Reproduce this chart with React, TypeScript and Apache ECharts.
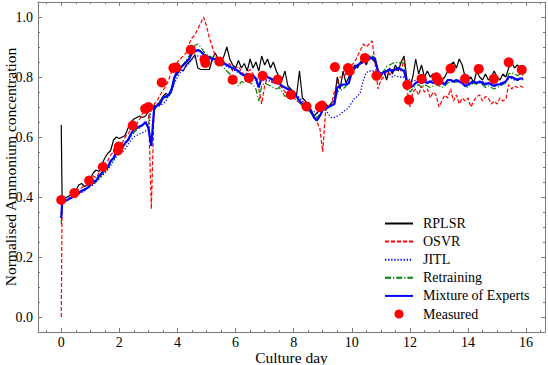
import React, { useEffect, useRef } from "react";
import * as echarts from "echarts";

// sampling grid (days): two samples at the very start, then every 0.1 day
const startDays = [0, 0.03];
const days: number[] = [...startDays, ...Array.from({ length: 159 }, (_, i) => Math.round((i + 1)) / 10)];

const rplsr = [
  0.64, 0.39, 0.395, 0.40, 0.405, 0.41, 0.42, 0.44, 0.445, 0.435, 0.44,
  0.46, 0.48, 0.49, 0.485, 0.51, 0.53, 0.545, 0.555, 0.59, 0.60,
  0.595, 0.60, 0.605, 0.63, 0.65, 0.66, 0.665, 0.67, 0.665, 0.67,
  0.685, 0.70, 0.69, 0.705, 0.72, 0.735, 0.745, 0.74, 0.76, 0.80,
  0.81, 0.825, 0.82, 0.84, 0.85, 0.86, 0.875, 0.83, 0.825, 0.825,
  0.825, 0.825, 0.86, 0.88, 0.86, 0.85, 0.87, 0.90, 0.86, 0.84,
  0.83, 0.855, 0.83, 0.845, 0.82, 0.86, 0.83, 0.85, 0.82, 0.87,
  0.84, 0.86, 0.83, 0.85, 0.82, 0.80, 0.79, 0.82, 0.77, 0.76,
  0.75, 0.74, 0.82, 0.73, 0.72, 0.70, 0.69, 0.67, 0.68, 0.69,
  0.70, 0.71, 0.70, 0.715, 0.72, 0.80, 0.76, 0.82, 0.78, 0.80,
  0.82, 0.84, 0.83, 0.85, 0.86, 0.84, 0.87, 0.86, 0.85, 0.82,
  0.80, 0.82, 0.79, 0.83, 0.81, 0.84, 0.82, 0.85, 0.87, 0.79,
  0.77, 0.80, 0.86, 0.81, 0.84, 0.80, 0.82, 0.80, 0.81, 0.79,
  0.78, 0.79, 0.80, 0.82, 0.84, 0.85, 0.83, 0.86, 0.84, 0.80,
  0.79, 0.80, 0.78, 0.82, 0.80, 0.79, 0.81, 0.79, 0.80, 0.82,
  0.80, 0.79, 0.81, 0.80, 0.83, 0.85, 0.83, 0.84, 0.83, 0.82,
];

const osvr = [
  0.0, 0.38, 0.385, 0.39, 0.40, 0.41, 0.42, 0.425, 0.43, 0.44, 0.44,
  0.46, 0.47, 0.465, 0.48, 0.49, 0.51, 0.52, 0.54, 0.55, 0.57,
  0.57, 0.58, 0.60, 0.61, 0.625, 0.64, 0.645, 0.66, 0.68, 0.69,
  0.70, 0.36, 0.71, 0.72, 0.74, 0.755, 0.77, 0.79, 0.82, 0.83,
  0.85, 0.86, 0.87, 0.88, 0.91, 0.93, 0.94, 0.96, 0.98, 1.0,
  0.97, 0.93, 0.90, 0.87, 0.855, 0.845, 0.85, 0.84, 0.845, 0.82,
  0.83, 0.835, 0.82, 0.80, 0.815, 0.825, 0.81, 0.79, 0.76, 0.71,
  0.77, 0.80, 0.79, 0.78, 0.785, 0.77, 0.765, 0.75, 0.74, 0.735,
  0.73, 0.72, 0.715, 0.71, 0.70, 0.69, 0.68, 0.665, 0.65, 0.63,
  0.55, 0.69, 0.70, 0.71, 0.75, 0.78, 0.80, 0.80, 0.81, 0.82,
  0.84, 0.85, 0.87, 0.89, 0.91, 0.90, 0.91, 0.92, 0.85, 0.76,
  0.79, 0.80, 0.82, 0.81, 0.825, 0.82, 0.83, 0.82, 0.86, 0.76,
  0.70, 0.75, 0.76, 0.74, 0.77, 0.75, 0.76, 0.73, 0.75, 0.74,
  0.70, 0.72, 0.74, 0.73, 0.76, 0.72, 0.74, 0.71, 0.73, 0.72,
  0.73, 0.70, 0.72, 0.735, 0.74, 0.72, 0.735, 0.73, 0.71, 0.72,
  0.71, 0.73, 0.72, 0.725, 0.775, 0.76, 0.77, 0.765, 0.77, 0.765,
];

const jitl = [
  0.33, 0.38, 0.385, 0.39, 0.395, 0.40, 0.405, 0.41, 0.415, 0.42, 0.43,
  0.435, 0.44, 0.45, 0.46, 0.47, 0.48, 0.49, 0.505, 0.52, 0.535,
  0.545, 0.55, 0.56, 0.575, 0.59, 0.60, 0.605, 0.61, 0.615, 0.62,
  0.625, 0.70, 0.70, 0.70, 0.705, 0.71, 0.72, 0.74, 0.75, 0.78,
  0.80, 0.815, 0.825, 0.835, 0.845, 0.86, 0.865, 0.87, 0.87, 0.865,
  0.86, 0.86, 0.855, 0.855, 0.85, 0.845, 0.84, 0.835, 0.83, 0.825,
  0.82, 0.815, 0.81, 0.81, 0.805, 0.80, 0.80, 0.795, 0.79, 0.79,
  0.79, 0.79, 0.785, 0.78, 0.78, 0.775, 0.77, 0.765, 0.76, 0.755,
  0.75, 0.74, 0.73, 0.72, 0.71, 0.70, 0.69, 0.685, 0.68, 0.685,
  0.69, 0.69, 0.675, 0.665, 0.665, 0.67, 0.675, 0.685, 0.69, 0.70,
  0.715, 0.73, 0.735, 0.75, 0.79, 0.815, 0.82, 0.82, 0.82, 0.815,
  0.81, 0.81, 0.805, 0.81, 0.80, 0.805, 0.80, 0.80, 0.80, 0.795,
  0.79, 0.785, 0.79, 0.79, 0.785, 0.79, 0.79, 0.785, 0.79, 0.79,
  0.785, 0.785, 0.78, 0.79, 0.79, 0.785, 0.785, 0.78, 0.785, 0.78,
  0.78, 0.785, 0.785, 0.78, 0.78, 0.785, 0.78, 0.78, 0.78, 0.775,
  0.775, 0.78, 0.78, 0.785, 0.795, 0.795, 0.79, 0.795, 0.795, 0.79,
];

const retraining = [
  0.31, 0.38, 0.385, 0.39, 0.395, 0.40, 0.405, 0.41, 0.42, 0.425, 0.43,
  0.44, 0.445, 0.45, 0.46, 0.475, 0.48, 0.495, 0.51, 0.52, 0.545,
  0.55, 0.56, 0.575, 0.59, 0.60, 0.615, 0.625, 0.63, 0.64, 0.645,
  0.65, 0.70, 0.705, 0.71, 0.72, 0.73, 0.73, 0.735, 0.75, 0.79,
  0.82, 0.83, 0.84, 0.855, 0.87, 0.89, 0.905, 0.91, 0.90, 0.885,
  0.875, 0.87, 0.865, 0.86, 0.85, 0.84, 0.83, 0.82, 0.81, 0.80,
  0.79, 0.77, 0.785, 0.78, 0.79, 0.78, 0.775, 0.76, 0.72, 0.77,
  0.78, 0.775, 0.77, 0.765, 0.76, 0.765, 0.75, 0.735, 0.74, 0.735,
  0.74, 0.725, 0.715, 0.705, 0.70, 0.69, 0.68, 0.67, 0.665, 0.675,
  0.695, 0.70, 0.70, 0.705, 0.71, 0.75, 0.755, 0.76, 0.77, 0.78,
  0.81, 0.825, 0.84, 0.85, 0.855, 0.86, 0.865, 0.87, 0.865, 0.82,
  0.81, 0.82, 0.835, 0.84, 0.845, 0.85, 0.845, 0.85, 0.845, 0.77,
  0.75, 0.76, 0.77, 0.775, 0.765, 0.775, 0.77, 0.765, 0.77, 0.775,
  0.77, 0.765, 0.77, 0.78, 0.785, 0.78, 0.785, 0.79, 0.78, 0.77,
  0.765, 0.775, 0.78, 0.775, 0.78, 0.775, 0.765, 0.77, 0.765, 0.76,
  0.765, 0.77, 0.775, 0.78, 0.81, 0.815, 0.81, 0.805, 0.81, 0.805,
];

const mixture = [
  0.33, 0.38, 0.385, 0.39, 0.395, 0.40, 0.41, 0.415, 0.42, 0.425, 0.43,
  0.44, 0.45, 0.455, 0.47, 0.48, 0.49, 0.50, 0.52, 0.53, 0.55,
  0.555, 0.565, 0.58, 0.59, 0.61, 0.625, 0.63, 0.635, 0.64, 0.65,
  0.63, 0.57, 0.70, 0.705, 0.71, 0.73, 0.735, 0.74, 0.76, 0.80,
  0.82, 0.83, 0.84, 0.85, 0.86, 0.88, 0.885, 0.89, 0.885, 0.875,
  0.87, 0.865, 0.86, 0.86, 0.855, 0.85, 0.845, 0.84, 0.835, 0.83,
  0.825, 0.82, 0.81, 0.805, 0.81, 0.80, 0.805, 0.795, 0.765, 0.80,
  0.805, 0.80, 0.795, 0.79, 0.785, 0.78, 0.77, 0.765, 0.76, 0.755,
  0.75, 0.735, 0.72, 0.71, 0.705, 0.70, 0.685, 0.665, 0.655, 0.67,
  0.69, 0.695, 0.70, 0.705, 0.71, 0.765, 0.77, 0.775, 0.775, 0.78,
  0.82, 0.83, 0.84, 0.845, 0.85, 0.855, 0.86, 0.865, 0.86, 0.82,
  0.81, 0.815, 0.82, 0.825, 0.82, 0.825, 0.83, 0.825, 0.82, 0.78,
  0.765, 0.77, 0.78, 0.785, 0.78, 0.785, 0.78, 0.785, 0.78, 0.785,
  0.785, 0.78, 0.775, 0.79, 0.79, 0.785, 0.79, 0.785, 0.78, 0.77,
  0.775, 0.78, 0.785, 0.78, 0.785, 0.78, 0.775, 0.78, 0.775, 0.77,
  0.775, 0.775, 0.78, 0.785, 0.80, 0.80, 0.795, 0.79, 0.795, 0.795,
];

const measuredDay = [
  0, 0.45, 0.96, 1.43, 1.95, 1.98, 2.46, 2.89, 3.0, 3.46, 3.86, 3.95, 4.46, 4.93, 4.96, 5.44,
  5.9, 6.46, 6.93, 7.45, 7.9, 8.44, 8.9, 8.97, 9.42, 9.87, 9.93, 10.45, 10.85, 11.91, 11.97,
  12.4, 12.91, 12.98, 13.4, 13.9, 14.37, 14.89, 15.4, 15.85,
];
const measuredValue = [
  0.39, 0.413, 0.455, 0.5, 0.555, 0.568, 0.638, 0.694, 0.7, 0.782, 0.83, 0.832, 0.891, 0.858, 0.847, 0.852,
  0.791, 0.797, 0.804, 0.791, 0.741, 0.702, 0.7, 0.705, 0.833, 0.83, 0.82, 0.863, 0.804, 0.774, 0.724,
  0.794, 0.799, 0.788, 0.828, 0.794, 0.827, 0.794, 0.849, 0.824,
];

const xMajorTicks = [0, 2, 4, 6, 8, 10, 12, 14, 16];
const yMajorTicks = [0, 0.2, 0.4, 0.6, 0.8, 1.0];
const X_MIN = -0.8;
const X_MAX = 16.65;
const Y_MIN = -0.05;
const Y_MAX = 1.05;

const xMinorTicks: number[] = [];
for (let v = -0.5; v <= X_MAX; v += 0.5) {
  const r = Math.round(v * 10) / 10;
  if (r % 2 !== 0) xMinorTicks.push(r);
}
const yMinorTicks: number[] = [];
for (let k = -1; k * 0.05 <= Y_MAX + 1e-9; k++) {
  if (k % 4 !== 0) yMinorTicks.push(Math.round(k * 5) / 100);
}

const FONT = "'Liberation Serif', 'DejaVu Serif', serif";
const FRAME = "#7a7a7a";

function pairs(vals: number[]) {
  return days.map((d, i) => [d, vals[i]]);
}

export default function App() {
  const ref = useRef<HTMLDivElement>(null);
  useEffect(() => {
    if (!ref.current) return;
    const chart = echarts.init(ref.current, undefined, { renderer: "svg" });
    const lineFrame = { color: FRAME, width: 1 };
    const xBase = { type: "value", min: X_MIN, max: X_MAX, splitLine: { show: false } };
    const yBase = { type: "value", min: Y_MIN, max: Y_MAX, splitLine: { show: false } };
    const hideSym = { itemStyle: { opacity: 0 } };
    const option: any = {
      animation: false,
      backgroundColor: "#ffffff",
      grid: { left: 38, right: 3, top: 2, bottom: 33, outerBoundsMode: "none" },
      legend: {
        orient: "vertical",
        left: 379,
        top: 211.5,
        itemWidth: 28,
        itemHeight: 9,
        itemGap: 4.1,
        textStyle: { fontFamily: FONT, fontSize: 14, color: "#000", padding: [0, 0, 0, 5] },
        data: [
          { name: "RPLSR", ...hideSym },
          { name: "OSVR", ...hideSym },
          { name: "JITL", ...hideSym },
          { name: "Retraining", ...hideSym },
          { name: "Mixture of Experts", ...hideSym },
          { name: "Measured", icon: "circle" },
        ],
      },
      xAxis: [
        {
          ...xBase,
          position: "bottom",
          axisLine: { show: true, onZero: false, lineStyle: lineFrame },
          axisTick: { show: true, inside: true, length: 4, customValues: xMajorTicks, lineStyle: lineFrame },
          axisLabel: {
            show: true,
            customValues: xMajorTicks,
            margin: 3,
            fontFamily: FONT,
            fontSize: 14,
            lineHeight: 14,
            color: "#000",
            formatter: (v: number) => String(v),
          },
          name: "Culture day",
          nameLocation: "middle",
          nameGap: 17.5,
          nameMoveOverlap: false,
          nameTextStyle: { fontFamily: FONT, fontSize: 15.5, lineHeight: 15, color: "#000" },
        },
        {
          ...xBase,
          position: "bottom",
          axisLine: { show: false, onZero: false },
          axisTick: { show: true, inside: true, length: 2, customValues: xMinorTicks, lineStyle: lineFrame },
          axisLabel: { show: false },
        },
        {
          ...xBase,
          position: "top",
          axisLine: { show: true, onZero: false, lineStyle: lineFrame },
          axisTick: { show: true, inside: true, length: 4, customValues: xMajorTicks, lineStyle: lineFrame },
          axisLabel: { show: false },
        },
        {
          ...xBase,
          position: "top",
          axisLine: { show: false, onZero: false },
          axisTick: { show: true, inside: true, length: 2, customValues: xMinorTicks, lineStyle: lineFrame },
          axisLabel: { show: false },
        },
      ],
      yAxis: [
        {
          ...yBase,
          position: "left",
          axisLine: { show: true, onZero: false, lineStyle: lineFrame },
          axisTick: { show: true, inside: true, length: 4, customValues: yMajorTicks, lineStyle: lineFrame },
          axisLabel: {
            show: true,
            customValues: yMajorTicks,
            margin: 5,
            fontFamily: FONT,
            fontSize: 14,
            color: "#000",
            formatter: (v: number) => v.toFixed(1),
          },
          name: "Normalised Ammonium concentration",
          nameLocation: "middle",
          nameGap: 20,
          nameMoveOverlap: false,
          nameTextStyle: { fontFamily: FONT, fontSize: 15.5, color: "#000" },
        },
        {
          ...yBase,
          position: "left",
          axisLine: { show: false, onZero: false },
          axisTick: { show: true, inside: true, length: 2, customValues: yMinorTicks, lineStyle: lineFrame },
          axisLabel: { show: false },
        },
        {
          ...yBase,
          position: "right",
          axisLine: { show: true, onZero: false, lineStyle: lineFrame },
          axisTick: { show: true, inside: true, length: 4, customValues: yMajorTicks, lineStyle: lineFrame },
          axisLabel: { show: false },
        },
        {
          ...yBase,
          position: "right",
          axisLine: { show: false, onZero: false },
          axisTick: { show: true, inside: true, length: 2, customValues: yMinorTicks, lineStyle: lineFrame },
          axisLabel: { show: false },
        },
      ],
      series: [
        {
          name: "RPLSR",
          type: "line",
          data: pairs(rplsr),
          symbol: "none",
          z: 2,
          lineStyle: { color: "#000000", width: 1.2 },
          itemStyle: { color: "#000000" },
        },
        {
          name: "OSVR",
          type: "line",
          data: pairs(osvr),
          symbol: "none",
          z: 3,
          lineStyle: { color: "#ff0000", width: 1.2, type: [4, 2] },
          itemStyle: { color: "#ff0000" },
        },
        {
          name: "JITL",
          type: "line",
          data: pairs(jitl),
          symbol: "none",
          z: 4,
          lineStyle: { color: "#0000ff", width: 1.3, type: [1.3, 1.8] },
          itemStyle: { color: "#0000ff" },
        },
        {
          name: "Retraining",
          type: "line",
          data: pairs(retraining),
          symbol: "none",
          z: 5,
          lineStyle: { color: "#008000", width: 1.2, type: [6, 2, 1.2, 2] },
          itemStyle: { color: "#008000" },
        },
        {
          name: "Mixture of Experts",
          type: "line",
          data: pairs(mixture),
          symbol: "none",
          z: 6,
          lineStyle: { color: "#0000ff", width: 2.2 },
          itemStyle: { color: "#0000ff" },
        },
        {
          name: "Measured",
          type: "scatter",
          data: measuredDay.map((d, i) => [d, measuredValue[i]]),
          symbol: "circle",
          symbolSize: 10,
          z: 7,
          itemStyle: { color: "#ff0000", opacity: 1 },
        },
      ],
    };
    chart.setOption(option);
    return () => chart.dispose();
  }, []);
  return (
    <div
      ref={ref}
      style={{ position: "absolute", left: 0, top: 0, width: 548, height: 365, background: "#fff" }}
    />
  );
}
